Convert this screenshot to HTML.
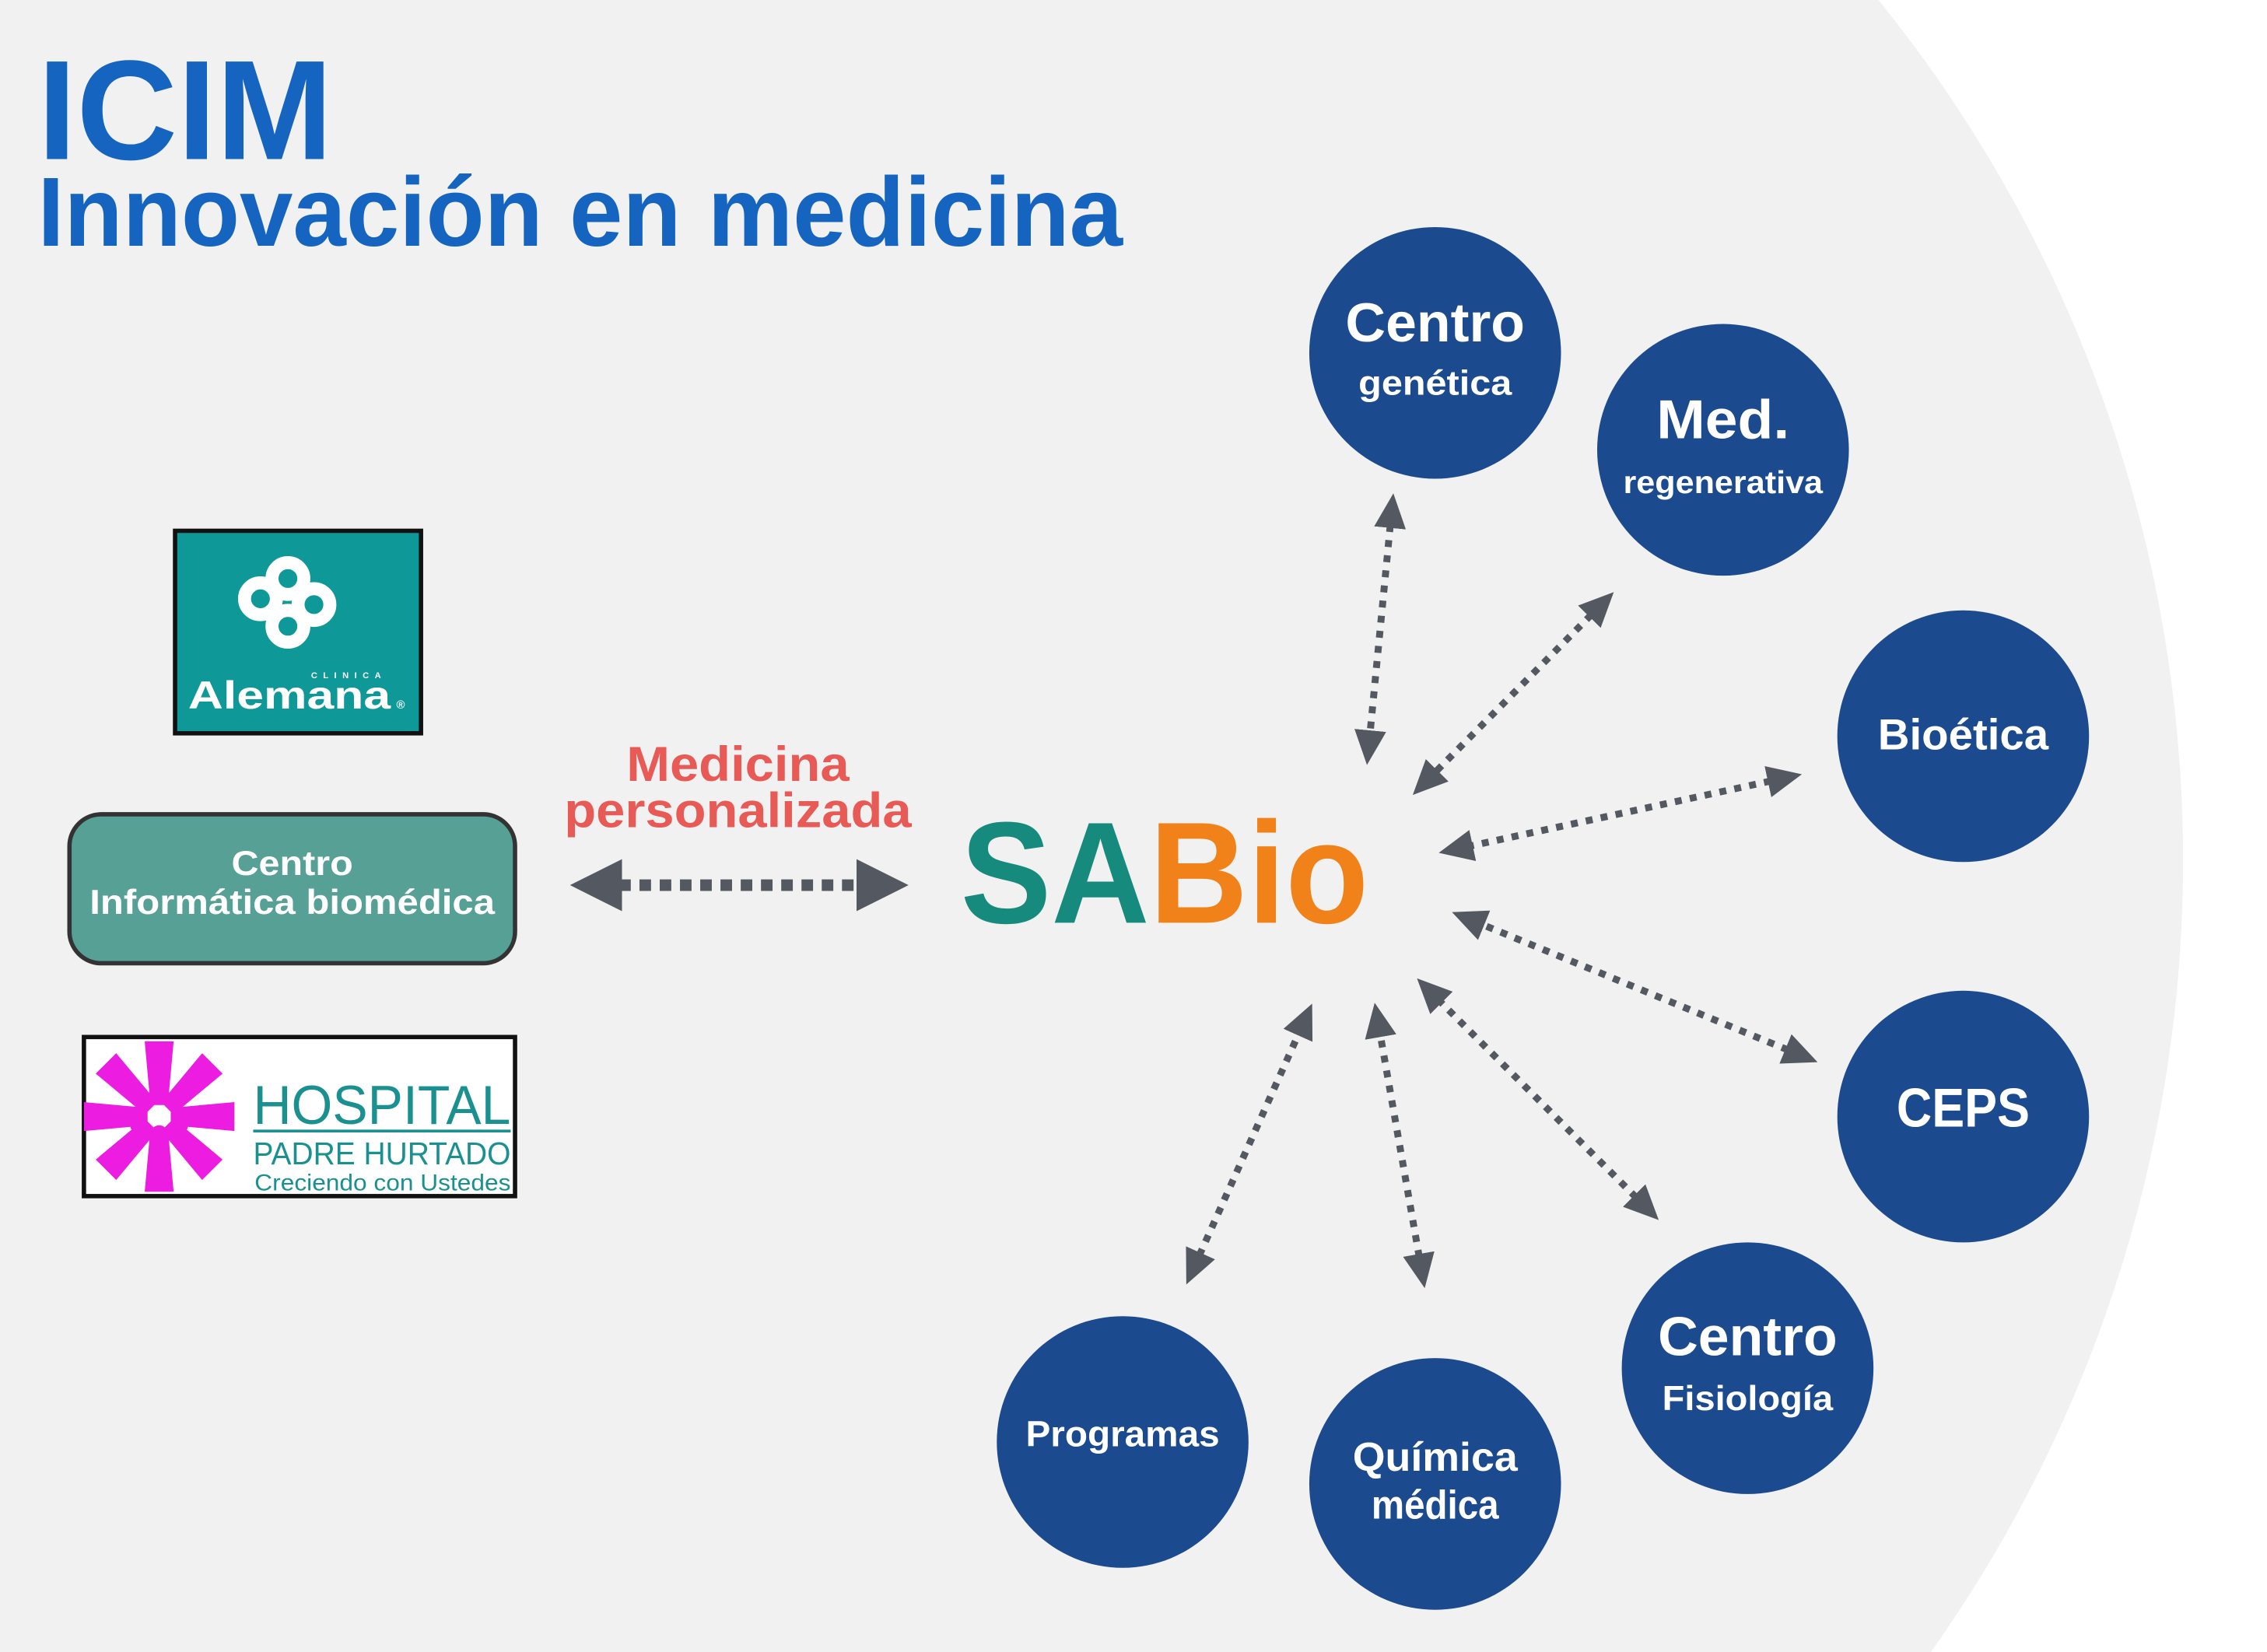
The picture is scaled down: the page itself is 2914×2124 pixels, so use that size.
<!DOCTYPE html>
<html><head><meta charset="utf-8"><style>
html,body{margin:0;padding:0;background:#fff;overflow:hidden;width:2914px;height:2124px;}
svg{display:block;}
text{font-family:"Liberation Sans",sans-serif;font-weight:bold;}
</style></head><body>
<svg width="2914" height="2124" viewBox="0 0 1567 1142.2" xmlns="http://www.w3.org/2000/svg">
<defs>
<marker id="ah" viewBox="0 0 24 22" refX="2" refY="11" markerWidth="24" markerHeight="22" markerUnits="userSpaceOnUse" orient="auto-start-reverse">
<path d="M0,0 L24,11 L0,22 Z" fill="#545860"/></marker>
<marker id="ahb" viewBox="0 0 36 36" refX="2" refY="18" markerWidth="36" markerHeight="36" markerUnits="userSpaceOnUse" orient="auto-start-reverse">
<path d="M0,0 L36,18 L0,36 Z" fill="#545860"/></marker>
</defs>
<rect width="1567" height="1143" fill="#fff"/>
<circle cx="563" cy="595" r="946" fill="#f1f1f1"/>

<text x="26" y="110" font-size="98" fill="#1565c0" textLength="204" lengthAdjust="spacingAndGlyphs">ICIM</text>
<text x="26" y="170" font-size="68" fill="#1565c0" textLength="750" lengthAdjust="spacingAndGlyphs">Innovación en medicina</text>

<!-- Alemana -->
<rect x="121" y="367" width="170" height="140" fill="#0e9898" stroke="#111" stroke-width="3"/>
<g fill="none" stroke="#fff" stroke-width="9">
<circle cx="199" cy="400" r="11"/><circle cx="180" cy="414" r="11"/><circle cx="217" cy="418" r="11"/><circle cx="199" cy="433" r="11"/>
</g>
<text x="130" y="490" font-size="27" fill="#fff" textLength="140" lengthAdjust="spacingAndGlyphs">Alemana</text>
<text x="215" y="469" font-size="6" fill="#fff" letter-spacing="4">CLINICA</text>
<text x="274" y="490" font-size="8" fill="#fff">®</text>

<!-- Centro informatica -->
<rect x="48" y="563" width="308" height="103" rx="22" fill="#56a096" stroke="#333" stroke-width="3"/>
<text x="202" y="605" font-size="24" fill="#fff" text-anchor="middle" textLength="84" lengthAdjust="spacingAndGlyphs">Centro</text>
<text x="202" y="632" font-size="24" fill="#fff" text-anchor="middle" textLength="280" lengthAdjust="spacingAndGlyphs">Informática biomédica</text>

<!-- Hospital -->
<rect x="58" y="717" width="298" height="110" fill="#fff" stroke="#111" stroke-width="3"/>
<g fill="#ec1ce0" transform="translate(110,772)">
<g id="arm"><path d="M-6,-8 L6,-8 L10,-52 L-10,-52 Z"/></g>
<use href="#arm" transform="rotate(45)"/><use href="#arm" transform="rotate(90)"/><use href="#arm" transform="rotate(135)"/>
<use href="#arm" transform="rotate(180)"/><use href="#arm" transform="rotate(225)"/><use href="#arm" transform="rotate(270)"/><use href="#arm" transform="rotate(315)"/>
<circle cx="-10" cy="-10" r="6"/><circle cx="10" cy="-10" r="6"/><circle cx="-14" cy="6" r="6"/><circle cx="14" cy="6" r="6"/><circle cx="0" cy="12" r="6"/>
</g>
<text x="175" y="777" font-size="38" fill="#1a9090" style="font-weight:normal" textLength="178" lengthAdjust="spacingAndGlyphs">HOSPITAL</text>
<line x1="175" y1="782" x2="353" y2="782" stroke="#1a9090" stroke-width="2"/>
<text x="175" y="805" font-size="22" fill="#1a9090" style="font-weight:normal" textLength="178" lengthAdjust="spacingAndGlyphs">PADRE HURTADO</text>
<text x="176" y="823" font-size="16" fill="#1a9090" style="font-weight:normal" textLength="177" lengthAdjust="spacingAndGlyphs">Creciendo con Ustedes</text>

<!-- Medicina personalizada -->
<text x="510" y="540" font-size="34" fill="#e85a55" text-anchor="middle" textLength="154" lengthAdjust="spacingAndGlyphs">Medicina</text>
<text x="510" y="572" font-size="34" fill="#e85a55" text-anchor="middle" textLength="240" lengthAdjust="spacingAndGlyphs">personalizada</text>
<line x1="428" y1="612" x2="594" y2="612" stroke="#545860" stroke-width="8" stroke-dasharray="8 6" marker-start="url(#ahb)" marker-end="url(#ahb)"/>

<!-- SABio -->
<text x="664" y="638" font-size="100" textLength="282" lengthAdjust="spacingAndGlyphs"><tspan fill="#168a7c">SA</tspan><tspan fill="#f08219">Bio</tspan></text>

<!-- arrows -->
<g stroke="#545860" stroke-width="4.8" stroke-dasharray="4.8 5.7" fill="none">
<line x1="961" y1="363" x2="947" y2="507" marker-start="url(#ah)" marker-end="url(#ah)"/>
<line x1="1100" y1="425" x2="992" y2="534" marker-start="url(#ah)" marker-end="url(#ah)"/>
<line x1="1224" y1="540" x2="1016" y2="585" marker-start="url(#ah)" marker-end="url(#ah)"/>
<line x1="1236" y1="726" x2="1024" y2="639" marker-start="url(#ah)" marker-end="url(#ah)"/>
<line x1="1131" y1="828" x2="995" y2="692" marker-start="url(#ah)" marker-end="url(#ah)"/>
<line x1="981" y1="869" x2="954" y2="715" marker-start="url(#ah)" marker-end="url(#ah)"/>
<line x1="829" y1="868" x2="898" y2="714" marker-start="url(#ah)" marker-end="url(#ah)"/>
</g>

<!-- circles -->
<g fill="#1c4a8f">
<circle cx="992" cy="244" r="87"/><circle cx="1191" cy="311" r="87"/><circle cx="1357" cy="509" r="87"/>
<circle cx="1357" cy="772" r="87"/><circle cx="1208" cy="946" r="87"/><circle cx="992" cy="1026" r="87"/><circle cx="776" cy="997" r="87"/>
</g>
<g fill="#fff" text-anchor="middle">
<text x="992" y="236" font-size="38" textLength="124" lengthAdjust="spacingAndGlyphs">Centro</text>
<text x="992" y="273" font-size="24" textLength="106" lengthAdjust="spacingAndGlyphs">genética</text>
<text x="1191" y="303" font-size="38" textLength="92" lengthAdjust="spacingAndGlyphs">Med.</text>
<text x="1191" y="341" font-size="22" textLength="138" lengthAdjust="spacingAndGlyphs">regenerativa</text>
<text x="1357" y="518" font-size="30" textLength="118" lengthAdjust="spacingAndGlyphs">Bioética</text>
<text x="1357" y="779" font-size="38" textLength="92" lengthAdjust="spacingAndGlyphs">CEPS</text>
<text x="1208" y="937" font-size="38" textLength="124" lengthAdjust="spacingAndGlyphs">Centro</text>
<text x="1208" y="975" font-size="24" textLength="118" lengthAdjust="spacingAndGlyphs">Fisiología</text>
<text x="992" y="1017" font-size="28" textLength="114" lengthAdjust="spacingAndGlyphs">Química</text>
<text x="992" y="1050" font-size="28" textLength="88" lengthAdjust="spacingAndGlyphs">médica</text>
<text x="776" y="1000" font-size="25" textLength="134" lengthAdjust="spacingAndGlyphs">Programas</text>
</g>
</svg>
</body></html>
